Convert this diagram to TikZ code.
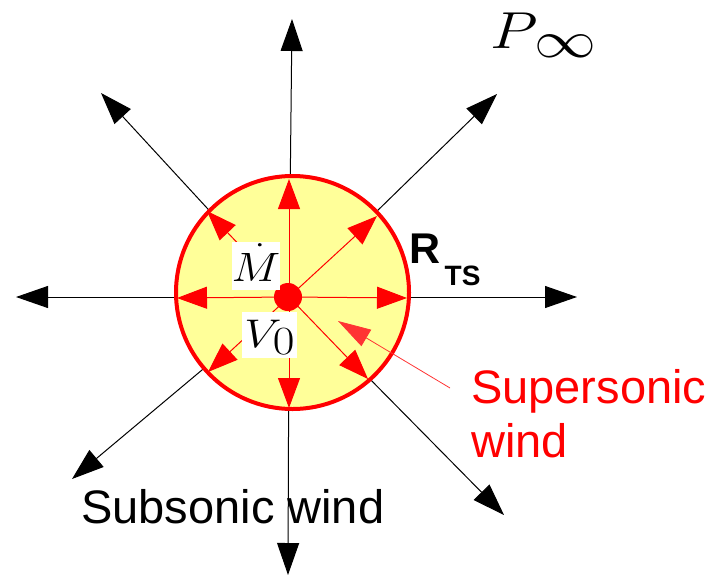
\RequirePackage{fix-cm}
\documentclass[tikz,border=0pt]{standalone}
\usepackage{fontspec}
\usepackage{graphicx}
\usetikzlibrary{arrows.meta}
\newfontfamily\arialfont{Liberation Sans}
\definecolor{paleyellow}{RGB}{255,255,153}
\definecolor{pointred}{RGB}{255,51,51}
\begin{document}
\begin{tikzpicture}[x=1pt,y=-1pt,
  blackarrow/.style={line width=1pt, draw=black, -{Triangle[length=32pt,width=22pt]}},
  redarrow/.style={line width=1pt, draw=red, -{Triangle[length=30pt,width=22pt]}},
  labelbox/.style={fill=white, inner sep=0pt},
  sanslabel/.style={inner sep=0pt, anchor=base west}]
\useasboundingbox (0,0) rectangle (717,576);
% centre and tips
\coordinate (c) at (289,297);
\coordinate (tN) at (292,19);
\coordinate (tS) at (288,575);
\coordinate (tW) at (16,297);
\coordinate (tE) at (577,297);
\coordinate (tNW) at (101,93);
\coordinate (tNE) at (497,94);
\coordinate (tSW) at (72,479);
\coordinate (tSE) at (504,515);
% black (subsonic) arrows
\foreach \t in {tN,tS,tW,tE,tNW,tNE,tSW,tSE}
  \draw[blackarrow] (c) -- (\t);
% termination shock sphere
\node[circle, draw=red, fill=paleyellow, line width=4pt, minimum size=233pt, inner sep=0pt] (ts) at (292.5,292.5) {};
% red (supersonic) arrows
\coordinate (rN) at (289,179);
\coordinate (rS) at (289,408);
\coordinate (rW) at (177,298);
\coordinate (rE) at (407,298);
\coordinate (rNE) at (377,216);
\coordinate (rNW) at (207,211);
\coordinate (rSW) at (208,372);
\coordinate (rSE) at (368,379);
\foreach \t in {rN,rS,rW,rE,rNE,rNW,rSW,rSE}
  \draw[redarrow] (c) -- (\t);
% central source
\node[circle, fill=red, minimum size=28pt, inner sep=0pt] (src) at (288,297) {};
% labels in white boxes
\node[labelbox, minimum width=48pt, text height=39pt, text depth=9pt] (mdot) at (256,266)
  {\scalebox{1.13}[1]{\fontsize{41}{48}\selectfont$\dot{M}$}};
\node[labelbox, minimum width=55pt, text height=35pt, text depth=11pt] (vzero) at (269.5,335)
  {\scalebox{1.18}[1]{\fontsize{40}{48}\selectfont$V$\kern-7.3pt\raisebox{-7.5pt}{$0$}}};
% P infinity
\node[sanslabel] (pinf) at (490.5,48)
  {\scalebox{1.19}[1]{\fontsize{52}{60}\selectfont$P$\kern-3pt\raisebox{-9.5pt}{$\infty$}}};
% R_TS
\node[sanslabel] (rts) at (409,263)
  {\arialfont\bfseries\fontsize{43}{50}\selectfont R\kern4.4pt\raisebox{-22pt}{\fontsize{28}{30}\selectfont TS}};
% supersonic wind label and pointer
\node[sanslabel, align=left, text=red, font=\arialfont\fontsize{47}{54}\selectfont] (super) at (471,457)
  {Supersonic\\wind};
\coordinate (ptail) at (450,388);
\coordinate (ptip) at (338,321);
\draw[draw=pointred, line width=0.8pt, -{Triangle[length=33pt,width=19pt]}] (ptail) -- (ptip);
% subsonic wind label
\node[sanslabel, font=\arialfont\fontsize{47}{54}\selectfont] (sub) at (81,523) {Subsonic wind};
\end{tikzpicture}
\end{document}
